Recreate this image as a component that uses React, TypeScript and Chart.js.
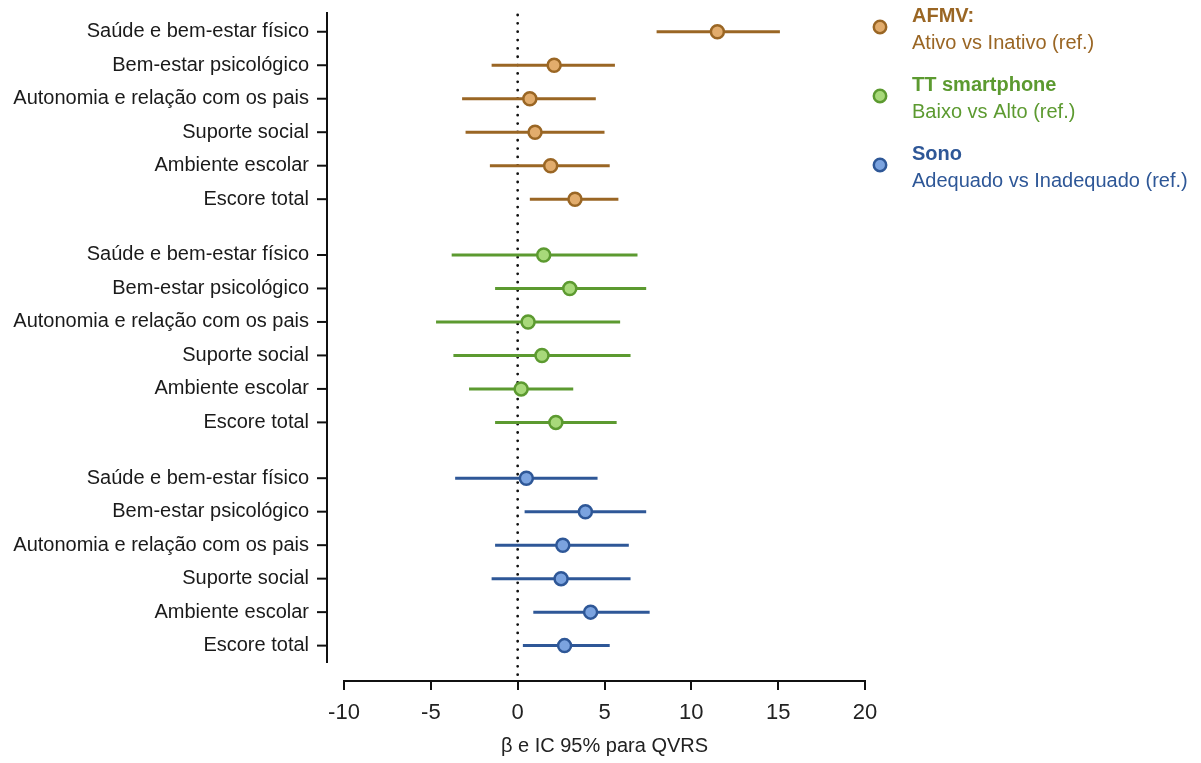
import React, { useEffect, useRef } from "react";
import { Chart, registerables } from "chart.js";
Chart.register(...registerables);

const FONT = '"Liberation Sans", Arial, Helvetica, sans-serif';

// ---- data ----
const rowLabels = [
  "Saúde e bem-estar físico",
  "Bem-estar psicológico",
  "Autonomia e relação com os pais",
  "Suporte social",
  "Ambiente escolar",
  "Escore total",
];
const groupTitles = ["AFMV:", "TT smartphone", "Sono"];
const groupSubtitles = ["Ativo vs Inativo (ref.)", "Baixo vs Alto (ref.)", "Adequado vs Inadequado (ref.)"];

const afmvBeta = [11.5, 2.1, 0.7, 1.0, 1.9, 3.3];
const afmvLow = [8.0, -1.5, -3.2, -3.0, -1.6, 0.7];
const afmvHigh = [15.1, 5.6, 4.5, 5.0, 5.3, 5.8];

const ttBeta = [1.5, 3.0, 0.6, 1.4, 0.2, 2.2];
const ttLow = [-3.8, -1.3, -4.7, -3.7, -2.8, -1.3];
const ttHigh = [6.9, 7.4, 5.9, 6.5, 3.2, 5.7];

const sonoBeta = [0.5, 3.9, 2.6, 2.5, 4.2, 2.7];
const sonoLow = [-3.6, 0.4, -1.3, -1.5, 0.9, 0.3];
const sonoHigh = [4.6, 7.4, 6.4, 6.5, 7.6, 5.3];

const xTicksMin = -10;
const xTicksMax = 20;
const xTickStep = 5;

// ---- styles ----
const lineColors = ["#9A6624", "#5C9A30", "#2E5797"];
const fillColors = ["#E2AC6C", "#A8D97A", "#7BA3DF"];
const GROUP_SPAN = 6 + 2 / 3;

const rowPos = (g: number, i: number) => g * GROUP_SPAN + i;

export default function App() {
  const ref = useRef<HTMLCanvasElement>(null);

  useEffect(() => {
    const canvas = ref.current;
    if (!canvas) return;

    const betas = [afmvBeta, ttBeta, sonoBeta];
    const lows = [afmvLow, ttLow, sonoLow];
    const highs = [afmvHigh, ttHigh, sonoHigh];

    const yPositions: number[] = [];
    const yLabels: string[] = [];
    betas.forEach((_, g) =>
      rowLabels.forEach((lab, i) => {
        yPositions.push(rowPos(g, i));
        yLabels.push(lab);
      })
    );

    const datasets: any[] = [];
    betas.forEach((b, g) => {
      datasets.push({
        label: groupTitles[g],
        data: b.map((v, i) => ({ x: v, y: rowPos(g, i) })),
        pointRadius: 6.5,
        pointHoverRadius: 6.5,
        pointBorderWidth: 2.5,
        pointBackgroundColor: fillColors[g],
        pointBorderColor: lineColors[g],
        showLine: false,
        order: 0,
      });
      lows[g].forEach((lo, i) => {
        datasets.push({
          label: groupTitles[g] + " IC " + i,
          data: [
            { x: lo, y: rowPos(g, i) },
            { x: highs[g][i], y: rowPos(g, i) },
          ],
          showLine: true,
          borderColor: lineColors[g],
          borderWidth: 3,
          pointRadius: 0,
          pointHoverRadius: 0,
          order: 1,
        });
      });
    });

    const yAxisEnd = rowPos(2, 5) + 0.52;

    const decorPlugin = {
      id: "decor",
      beforeDatasetsDraw(chart: any) {
        const { ctx, chartArea, scales } = chart;
        const x0 = scales.x.getPixelForValue(0);
        ctx.save();
        ctx.strokeStyle = "#111";
        ctx.lineWidth = 2.8;
        ctx.lineCap = "round";
        ctx.setLineDash([0, 8.35]);
        ctx.beginPath();
        ctx.moveTo(x0, chartArea.top + 3);
        ctx.lineTo(x0, chartArea.bottom - 3);
        ctx.stroke();
        ctx.restore();
      },
      afterDraw(chart: any) {
        const { ctx, chartArea, scales } = chart;
        const ax = chartArea.left - 17;
        ctx.save();
        // y axis line and ticks
        ctx.strokeStyle = "#111";
        ctx.lineWidth = 2;
        ctx.beginPath();
        ctx.moveTo(ax, chartArea.top);
        ctx.lineTo(ax, scales.y.getPixelForValue(yAxisEnd));
        ctx.stroke();
        yPositions.forEach((v) => {
          const py = scales.y.getPixelForValue(v);
          ctx.beginPath();
          ctx.moveTo(ax - 10, py);
          ctx.lineTo(ax, py);
          ctx.stroke();
        });
        // legend
        const lx = chartArea.right + 15;
        const tx = chartArea.right + 47;
        groupTitles.forEach((t, g) => {
          const ty = 16 + g * 69;
          ctx.beginPath();
          ctx.arc(lx, ty + 11, 6.2, 0, Math.PI * 2);
          ctx.fillStyle = fillColors[g];
          ctx.fill();
          ctx.lineWidth = 2.5;
          ctx.strokeStyle = lineColors[g];
          ctx.stroke();
          ctx.fillStyle = lineColors[g];
          ctx.textBaseline = "middle";
          ctx.textAlign = "left";
          ctx.font = `bold 20px ${FONT}`;
          ctx.fillText(t, tx, ty);
          ctx.font = `20px ${FONT}`;
          ctx.fillText(groupSubtitles[g], tx, ty + 27);
        });
        ctx.restore();
      },
    };

    const chart = new Chart(canvas, {
      type: "scatter",
      data: { datasets },
      options: {
        animation: false,
        responsive: false,
        events: [],
        layout: { padding: { left: 0, top: 12, right: 336, bottom: 0 } },
        plugins: {
          legend: { display: false },
          tooltip: { enabled: false },
        },
        scales: {
          x: {
            type: "linear",
            min: xTicksMin,
            max: xTicksMax,
            ticks: {
              stepSize: xTickStep,
              font: { size: 22, family: FONT },
              color: "#222",
              padding: 10,
            },
            grid: {
              display: true,
              drawOnChartArea: false,
              drawTicks: true,
              tickLength: 9,
              color: "#111",
              lineWidth: 2,
            },
            border: { display: true, color: "#111", width: 2 },
            title: {
              display: true,
              text: "β e IC 95% para QVRS",
              font: { size: 20, family: FONT },
              color: "#222",
              padding: { top: 4, bottom: 5 },
            },
            afterFit: (s: any) => {
              s.height = 82;
              s.paddingLeft = 0;
              s.paddingRight = 0;
            },
          },
          y: {
            type: "linear",
            reverse: true,
            min: -0.59,
            max: 19.39,
            afterBuildTicks: (s: any) => {
              s.ticks = yPositions.map((v) => ({ value: v }));
            },
            ticks: {
              autoSkip: false,
              callback: (_v: any, i: number) => yLabels[i],
              font: { size: 20, family: FONT },
              color: "#1a1a1a",
              padding: 27,
            },
            grid: { display: false },
            border: { display: false },
            afterFit: (s: any) => {
              s.width = 344;
              s.paddingTop = 0;
              s.paddingBottom = 0;
            },
          },
        },
      } as any,
      plugins: [decorPlugin],
    });

    return () => chart.destroy();
  }, []);

  return (
    <div style={{ position: "absolute", left: 0, top: 0, width: 1201, height: 763, background: "#fff" }}>
      <canvas ref={ref} width={1201} height={763} style={{ display: "block" }} />
    </div>
  );
}
